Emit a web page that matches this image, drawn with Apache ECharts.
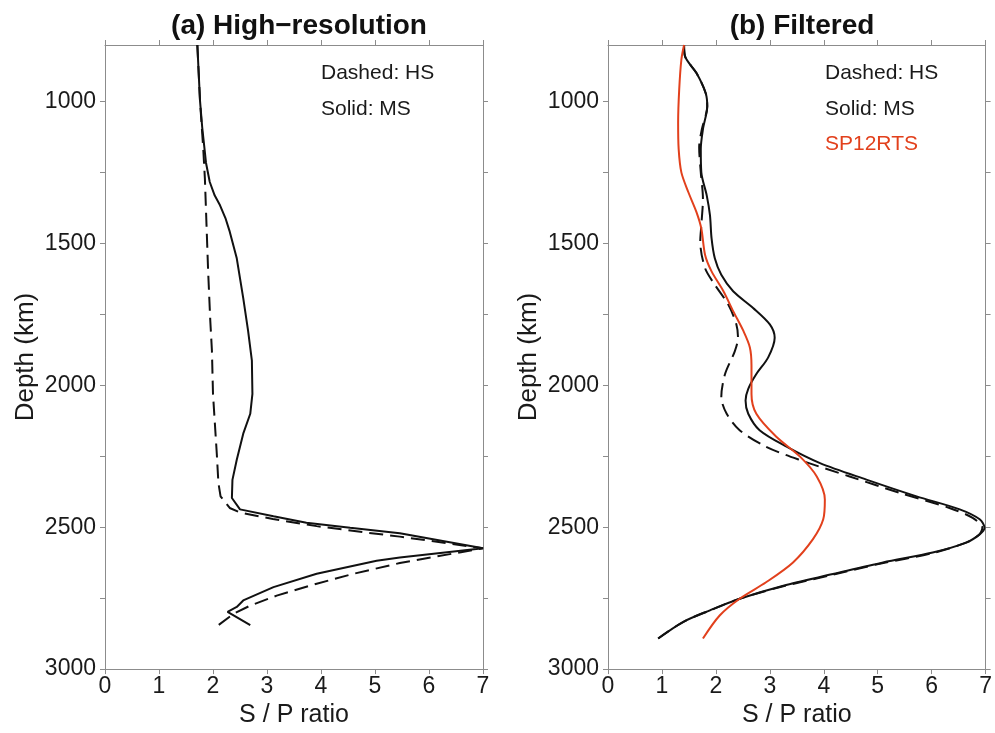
<!DOCTYPE html>
<html>
<head>
<meta charset="utf-8">
<script src="https://cdn.jsdelivr.net/npm/echarts@6/dist/echarts.min.js"></script>
<style>html,body{margin:0;padding:0;background:#fff;}#c{width:995px;height:733px;}</style>
</head>
<body>
<div id="c"></div>
<script>
// ---- data: [S/P ratio, depth km] ----
const depthLabels = [1000, 1500, 2000, 2500, 3000];
const depthTicks = [1000, 1250, 1500, 1750, 2000, 2250, 2500, 2750, 3000];
const ratioTicks = [0, 1, 2, 3, 4, 5, 6, 7];

const hiresMS = [[1.71,800],[1.76,998],[1.80,1090],[1.83,1143],[1.87,1215],[1.94,1283],[2.03,1330],[2.13,1365],[2.23,1410],[2.31,1458],[2.44,1552],[2.56,1692],[2.65,1808],[2.72,1913],[2.73,2030],[2.69,2100],[2.56,2170],[2.44,2262],[2.36,2333],[2.35,2397],[2.5,2437],[3.12,2461],[3.73,2484],[4.54,2502],[5.46,2521],[7.0,2574],[5.46,2607],[5.03,2618],[3.92,2664],[3.12,2711],[2.56,2758],[2.44,2781],[2.27,2798],[2.69,2845]];
const hiresHS = [[1.71,800],[1.76,998],[1.82,1167],[1.85,1272],[1.88,1435],[1.91,1598],[1.95,1773],[1.98,1877],[2.0,2030],[2.07,2240],[2.1,2344],[2.14,2391],[2.31,2432],[2.5,2448],[3.11,2471],[3.92,2496],[4.85,2519],[5.46,2533],[7.0,2574],[5.46,2626],[4.6,2664],[3.92,2699],[3.18,2741],[2.69,2776],[2.38,2805],[2.1,2845]];

const filtMS = [[1.41,800],[1.43,841],[1.64,899],[1.81,969],[1.84,1016],[1.76,1097],[1.72,1167],[1.73,1249],[1.83,1330],[1.89,1400],[1.92,1482],[1.98,1552],[2.10,1610],[2.32,1668],[2.69,1727],[3.0,1785],[3.09,1832],[2.97,1901],[2.75,1960],[2.60,2012],[2.55,2053],[2.60,2100],[2.81,2158],[3.31,2216],[3.93,2274],[4.79,2332],[5.72,2391],[6.52,2437],[6.89,2472],[6.98,2502],[6.89,2525],[6.64,2554],[6.02,2589],[5.10,2624],[4.17,2665],[3.25,2706],[2.44,2752],[1.89,2793],[1.39,2834],[0.93,2892]];
const filtHS = [[1.41,800],[1.43,841],[1.64,899],[1.81,969],[1.84,1016],[1.74,1097],[1.69,1160],[1.72,1249],[1.76,1342],[1.73,1435],[1.71,1493],[1.80,1587],[1.98,1645],[2.23,1715],[2.38,1785],[2.41,1832],[2.35,1880],[2.17,1960],[2.10,2041],[2.20,2100],[2.44,2158],[2.93,2216],[3.56,2263],[4.48,2321],[5.41,2379],[6.33,2432],[6.76,2467],[6.94,2502],[6.87,2528],[6.6,2557],[6.0,2592],[5.08,2627],[4.15,2668],[3.23,2709],[2.44,2752],[1.89,2793],[1.39,2834],[0.93,2892]];
const filtSP12RTS = [[1.41,800],[1.36,852],[1.32,957],[1.30,1074],[1.31,1167],[1.36,1249],[1.49,1319],[1.64,1389],[1.73,1447],[1.80,1540],[1.92,1598],[2.14,1668],[2.32,1738],[2.51,1808],[2.63,1866],[2.66,1930],[2.66,2030],[2.75,2100],[3.12,2181],[3.56,2251],[3.87,2321],[4.02,2402],[3.99,2472],[3.80,2542],[3.43,2624],[2.93,2694],[2.44,2752],[2.07,2811],[1.76,2892]];

const titles = ['(a) High\u2212resolution', '(b) Filtered'];

// ---- styling ----
const FONT = '"Liberation Sans", Arial, sans-serif';
const AX = '#8c8c8c';
const RED = '#e2401c';
const grids = [
  {left: 105, top: 45, width: 378, height: 629},
  {left: 608, top: 45, width: 378, height: 629}
];

function xAxes(gi) {
  const common = {
    type: 'value', gridIndex: gi, min: 0, max: 7, interval: 1,
    splitLine: {show: false},
    axisLine: {show: true, onZero: false, lineStyle: {color: AX, width: 1}},
    axisTick: {show: true, length: 5, customValues: ratioTicks, lineStyle: {color: AX}}
  };
  return [
    Object.assign({}, common, {
      position: 'bottom',
      name: 'S / P ratio', nameLocation: 'middle', nameGap: 31,
      nameTextStyle: {fontFamily: FONT, fontSize: 25, color: '#1a1a1a'},
      axisLabel: {show: true, margin: 6, customValues: ratioTicks, formatter: v => String(v),
                  fontFamily: FONT, fontSize: 23, color: '#1a1a1a'}
    }),
    Object.assign({}, common, {position: 'top', axisLabel: {show: false}})
  ];
}
function yAxes(gi) {
  const common = {
    type: 'value', gridIndex: gi, min: 800, max: 3000, inverse: true,
    splitLine: {show: false},
    axisLine: {show: true, onZero: false, lineStyle: {color: AX, width: 1}},
    axisTick: {show: true, length: 5, customValues: depthTicks, lineStyle: {color: AX}}
  };
  return [
    Object.assign({}, common, {
      position: 'left',
      name: 'Depth (km)', nameLocation: 'middle', nameGap: 66, nameRotate: 90,
      nameTextStyle: {fontFamily: FONT, fontSize: 26, color: '#1a1a1a'},
      axisLabel: {show: true, margin: 9, customValues: depthLabels, formatter: v => String(v),
                  fontFamily: FONT, fontSize: 23, color: '#1a1a1a'}
    }),
    Object.assign({}, common, {position: 'right', axisLabel: {show: false}})
  ];
}

function lineSeries(data, xi, yi, opts) {
  return Object.assign({
    type: 'line', data: data, xAxisIndex: xi, yAxisIndex: yi,
    showSymbol: false, symbol: 'none', animation: false, silent: true,
    lineStyle: {color: '#111', width: 2}
  }, opts);
}

const option = {
  backgroundColor: '#ffffff',
  animation: false,
  title: [
    {text: titles[0], left: 294, top: 7, textAlign: 'center',
     textStyle: {fontFamily: FONT, fontSize: 28, fontWeight: 'bold', color: '#111'}},
    {text: titles[1], left: 797, top: 7, textAlign: 'center',
     textStyle: {fontFamily: FONT, fontSize: 28, fontWeight: 'bold', color: '#111'}}
  ],
  grid: grids,
  xAxis: [...xAxes(0), ...xAxes(1)],
  yAxis: [...yAxes(0), ...yAxes(1)],
  series: [
    lineSeries(hiresHS, 0, 0, {lineStyle: {color: '#111', width: 2, type: [14, 7]}}),
    lineSeries(hiresMS, 0, 0, {}),
    lineSeries(filtHS, 2, 2, {smooth: 0.3, lineStyle: {color: '#111', width: 2, type: [14, 7]}}),
    lineSeries(filtMS, 2, 2, {smooth: 0.3}),
    lineSeries(filtSP12RTS, 2, 2, {smooth: 0.3, lineStyle: {color: RED, width: 2}})
  ],
  graphic: [
    {type: 'text', left: 321, top: 63, style: {text: 'Dashed: HS', font: '21px ' + FONT, fill: '#1a1a1a'}},
    {type: 'text', left: 321, top: 99, style: {text: 'Solid: MS', font: '21px ' + FONT, fill: '#1a1a1a'}},
    {type: 'text', left: 825, top: 63, style: {text: 'Dashed: HS', font: '21px ' + FONT, fill: '#1a1a1a'}},
    {type: 'text', left: 825, top: 99, style: {text: 'Solid: MS', font: '21px ' + FONT, fill: '#1a1a1a'}},
    {type: 'text', left: 825, top: 134, style: {text: 'SP12RTS', font: '21px ' + FONT, fill: RED}}
  ]
};

const chart = echarts.init(document.getElementById('c'), null, {renderer: 'canvas'});
chart.setOption(option);
</script>
</body>
</html>
